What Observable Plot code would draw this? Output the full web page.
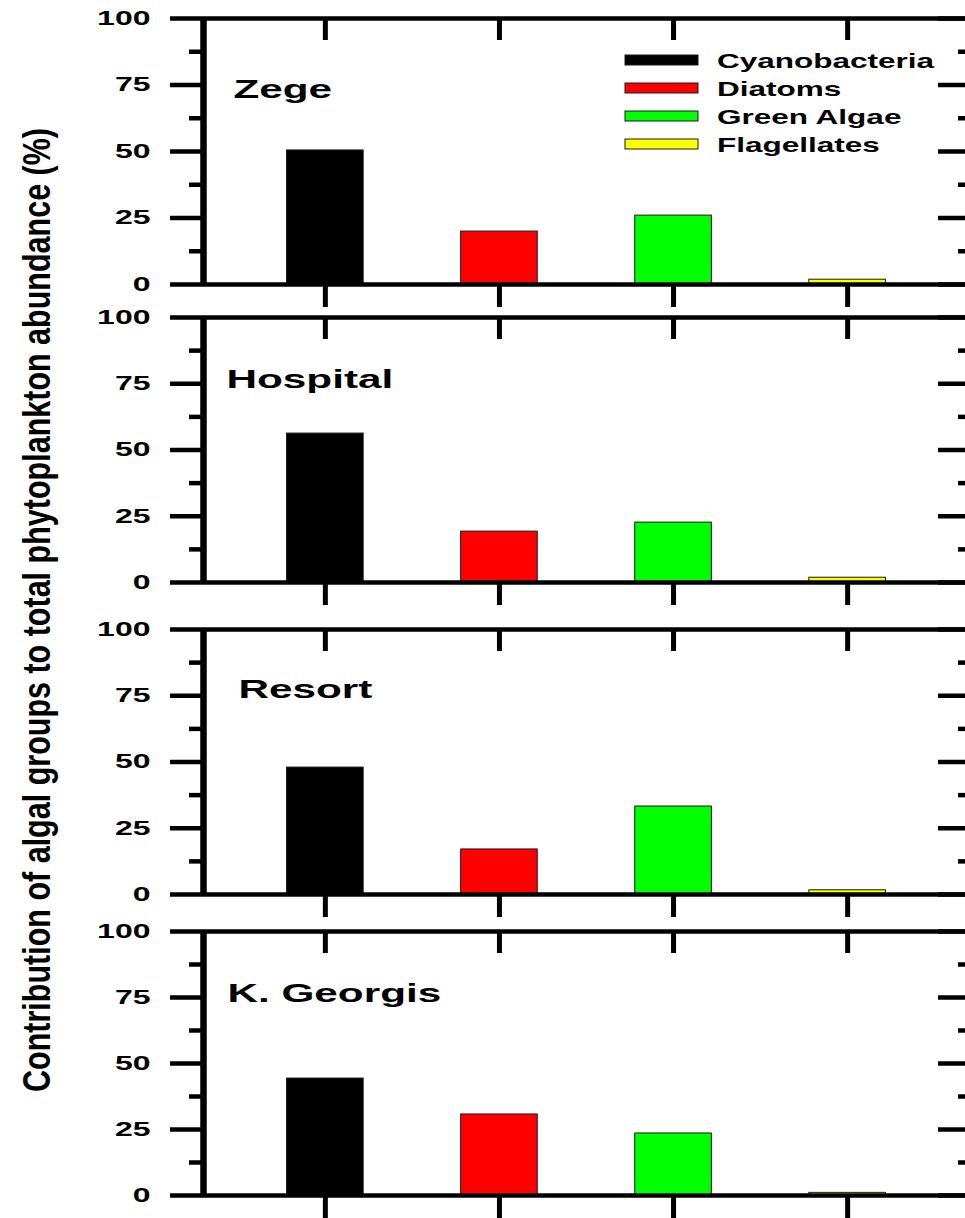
<!DOCTYPE html>
<html>
<head>
<meta charset="utf-8">
<script src="https://cdn.jsdelivr.net/npm/d3@7"></script>
<script src="https://cdn.jsdelivr.net/npm/@observablehq/plot@0.6"></script>
<style>
  html, body { margin: 0; padding: 0; background: #fff; overflow: hidden; }
  #figure { position: relative; width: 965px; height: 1218px; overflow: hidden; background: #fff;
            font-family: "Liberation Sans", Arial, Helvetica, sans-serif; color: #000; }
  #figure svg { position: absolute; left: 0; }
</style>
</head>
<body>
<div id="figure"></div>
<script>
// Sampling sites (one panel each) and algal groups (one bar each)
const sites = ["Zege", "Hospital", "Resort", "K. Georgis"];
const groups = ["Cyanobacteria", "Diatoms", "Green Algae", "Flagellates"];

// Share of each group in total phytoplankton abundance (%), per site
const cyanobacteria = [50.4, 56.2, 47.9, 44.3];
const diatoms       = [19.9, 19.2, 17.0, 30.7];
const greenAlgae    = [25.9, 22.6, 33.2, 23.5];
const flagellates   = [1.8, 1.8, 1.6, 1.0];

const yTicks = [0, 25, 50, 75, 100];
const yMinorTicks = [12.5, 37.5, 62.5, 87.5];
const yTitle = "Contribution of algal groups to total phytoplankton abundance (%)";

const groupColors = ["#000000", "#ff0000", "#00ff00", "#ffff00"];

// ---- layout ----
const svgWidth = 975;
const marginLeft = 203, marginRight = 6, marginTop = 6, marginBottom = 26;
const frameW = svgWidth - marginLeft - marginRight;
const panelTops  = [18, 317, 629, 931];
const panelZeros = [284, 582, 894, 1195];
const labelOffsets = [[30, 79], [23, 70], [35, 68], [24, 70]];
const barHalf = 0.22;
const fontFamily = '"Liberation Sans", Arial, Helvetica, sans-serif';

const series = [cyanobacteria, diatoms, greenAlgae, flagellates];
const positions = groups.map((g, j) => j + 1);

const figure = document.getElementById("figure");

// widen glyphs horizontally, keeping their anchor
function stretch(root, selector, factor) {
  root.querySelectorAll(selector).forEach(t => {
    if (!t.textContent) return;
    const w = t.getComputedTextLength();
    t.setAttribute("textLength", (w * factor).toFixed(1));
    t.setAttribute("lengthAdjust", "spacingAndGlyphs");
  });
}

sites.forEach((site, i) => {
  const rows = groups.map((g, j) => ({site, group: g, pos: positions[j], value: series[j][i]}));
  const h = panelZeros[i] - panelTops[i];
  const chart = Plot.plot({
    width: svgWidth,
    height: h + marginTop + marginBottom,
    marginLeft, marginRight, marginTop, marginBottom,
    x: {domain: [0.3, 4.7], axis: null},
    y: {domain: [0, 100], axis: null},
    color: {domain: groups, range: groupColors},
    style: {background: "transparent", maxWidth: "none", overflow: "visible", fontFamily},
    marks: [
      Plot.rectY(rows, {
        x1: d => d.pos - barHalf, x2: d => d.pos + barHalf, y: "value",
        fill: "group", stroke: "#1a1a1a", strokeWidth: 1
      }),
      // left axis: labelled major ticks and minor ticks
      Plot.axisY(yTicks, {anchor: "left", tickSize: 33, tickPadding: 20, strokeWidth: 4.5,
        fontSize: 20, fontWeight: "bold", label: null}),
      Plot.axisY(yMinorTicks, {anchor: "left", tickSize: 14, strokeWidth: 4.5, fill: "none", label: null}),
      // inward ticks on the right frame
      Plot.ruleY(yTicks, {insetLeft: frameW - 31, strokeWidth: 4.5}),
      Plot.ruleY(yMinorTicks, {insetLeft: frameW - 11, strokeWidth: 4.5}),
      // inward ticks on the top frame, outward ticks below the baseline
      Plot.ruleX(positions, {insetBottom: h - 22, strokeWidth: 5}),
      Plot.axisX(positions, {anchor: "bottom", tickSize: 23, strokeWidth: 5, fill: "none", label: null}),
      // frame
      Plot.ruleY([0, 100], {strokeWidth: 4.5}),
      Plot.ruleX([0.3, 4.7], {strokeWidth: 6.5}),
      // site name
      Plot.text([site], {frameAnchor: "top-left", dx: labelOffsets[i][0], dy: labelOffsets[i][1],
        lineAnchor: "bottom", textAnchor: "start", fontSize: 25, fontWeight: "bold", text: d => d})
    ]
  });
  chart.style.position = "absolute";
  chart.style.top = (panelTops[i] - marginTop) + "px";
  chart.style.left = "0px";
  figure.appendChild(chart);
  stretch(chart, 'g[aria-label="y-axis tick label"] text', 1.6);
  stretch(chart, 'g[aria-label="text"] text', 1.69);
});

// legend, top panel
const legendY = [60, 88, 116, 144];
const legend = d3.create("svg")
  .attr("width", 965).attr("height", 170)
  .style("top", "0px").style("left", "0px")
  .attr("font-family", fontFamily);
groups.forEach((g, j) => {
  legend.append("rect")
    .attr("x", 625).attr("y", legendY[j] - 5).attr("width", 73).attr("height", 10)
    .attr("fill", groupColors[j]).attr("stroke", "#1a1a1a").attr("stroke-width", 1);
  legend.append("text")
    .attr("class", "legend-label")
    .attr("x", 717).attr("y", legendY[j] + 7.5)
    .attr("font-size", 21).attr("font-weight", "bold")
    .text(g);
});
figure.appendChild(legend.node());
stretch(legend.node(), "text.legend-label", 1.5);

// shared y-axis title
const title = d3.create("svg")
  .attr("width", 100).attr("height", 1218)
  .style("top", "0px").style("left", "0px")
  .attr("font-family", fontFamily);
title.append("text")
  .attr("transform", "translate(50,610) rotate(-90) scale(1,1.6)")
  .attr("text-anchor", "middle")
  .attr("font-size", 24)
  .attr("font-weight", "bold")
  .attr("textLength", 964)
  .attr("lengthAdjust", "spacingAndGlyphs")
  .text(yTitle);
figure.appendChild(title.node());
</script>
</body>
</html>
